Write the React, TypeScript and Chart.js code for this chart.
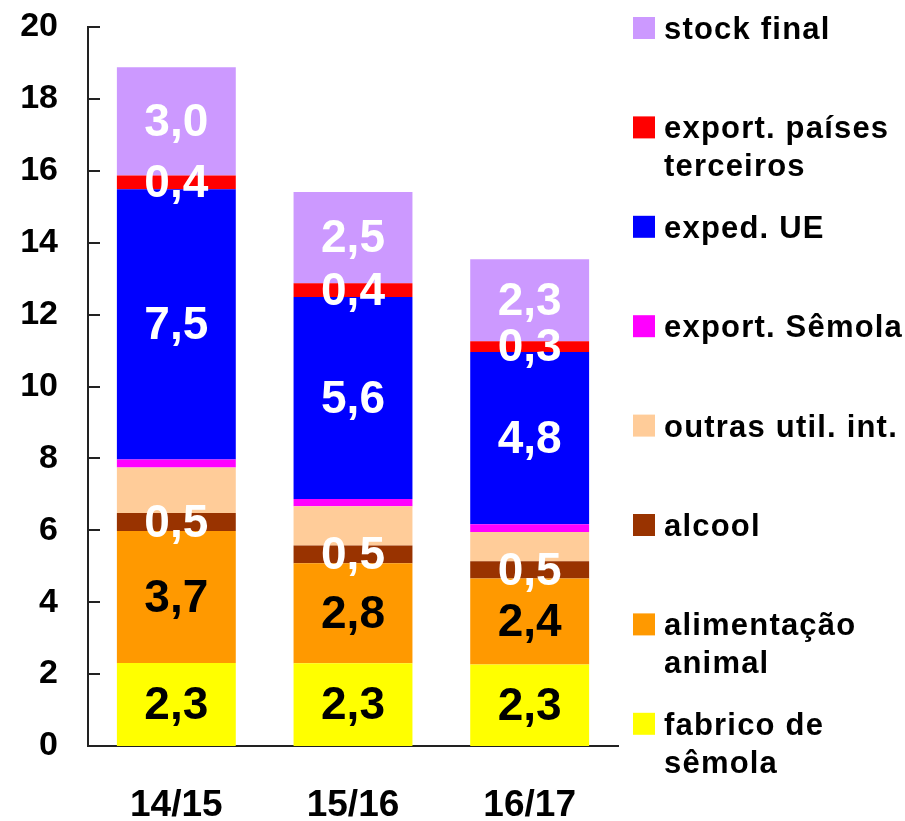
import React, { useEffect, useRef } from "react";
import { Chart, registerables } from "chart.js";

Chart.register(...registerables);

const categories = ["14/15", "15/16", "16/17"];

const fabricoSemola = [2.31, 2.3, 2.27];
const alimentacaoAnimal = [3.67, 2.78, 2.39];
const alcool = [0.5, 0.5, 0.48];
const outrasUtilInt = [1.27, 1.09, 0.81];
const exportSemola = [0.22, 0.2, 0.22];
const expedUE = [7.52, 5.62, 4.79];
const exportPaises = [0.38, 0.38, 0.3];
const stockFinal = [3.01, 2.54, 2.28];

const yMin = 0;
const yMax = 20;
const yStep = 2;

const FONT = '"Liberation Sans", Arial, Helvetica, sans-serif';

type Series = {
  name: string;
  lines: string[];
  data: number[];
  color: string;
  showValue: boolean;
  valueColor: string;
};

const series: Series[] = [
  { name: "fabrico de sêmola", lines: ["fabrico de", "sêmola"], data: fabricoSemola, color: "#FFFF00", showValue: true, valueColor: "#000000" },
  { name: "alimentação animal", lines: ["alimentação", "animal"], data: alimentacaoAnimal, color: "#FF9900", showValue: true, valueColor: "#000000" },
  { name: "alcool", lines: ["alcool"], data: alcool, color: "#993300", showValue: true, valueColor: "#FFFFFF" },
  { name: "outras util. int.", lines: ["outras util. int."], data: outrasUtilInt, color: "#FFCC99", showValue: false, valueColor: "#FFFFFF" },
  { name: "export. Sêmola", lines: ["export. Sêmola"], data: exportSemola, color: "#FF00FF", showValue: false, valueColor: "#FFFFFF" },
  { name: "exped. UE", lines: ["exped. UE"], data: expedUE, color: "#0000FF", showValue: true, valueColor: "#FFFFFF" },
  { name: "export. países terceiros", lines: ["export. países", "terceiros"], data: exportPaises, color: "#FF0000", showValue: true, valueColor: "#FFFFFF" },
  { name: "stock final", lines: ["stock final"], data: stockFinal, color: "#CC99FF", showValue: true, valueColor: "#FFFFFF" },
];

const axisColor = "#222222";

const innerTicksPlugin = {
  id: "innerTicks",
  afterDraw(chart: any) {
    const { ctx, chartArea, scales } = chart;
    const y = scales.y;
    ctx.save();
    ctx.strokeStyle = axisColor;
    ctx.lineWidth = 2;
    y.ticks.forEach((t: any) => {
      const py = Math.round(y.getPixelForValue(t.value));
      ctx.beginPath();
      ctx.moveTo(chartArea.left, py);
      ctx.lineTo(chartArea.left + 12, py);
      ctx.stroke();
    });
    ctx.restore();
  },
};

const barValuesPlugin = {
  id: "barValues",
  afterDatasetsDraw(chart: any) {
    const { ctx } = chart;
    ctx.save();
    ctx.font = `bold 46px ${FONT}`;
    ctx.textAlign = "center";
    ctx.textBaseline = "middle";
    series.forEach((s, di) => {
      if (!s.showValue) return;
      const meta = chart.getDatasetMeta(di);
      meta.data.forEach((bar: any, i: number) => {
        const cy = (bar.y + bar.base) / 2;
        ctx.fillStyle = s.valueColor;
        ctx.fillText(s.data[i].toFixed(1).replace(".", ","), bar.x, cy + 2);
      });
    });
    ctx.restore();
  },
};

const sideLegendPlugin = {
  id: "sideLegend",
  afterDraw(chart: any) {
    const { ctx } = chart;
    const items = [...series].reverse();
    ctx.save();
    ctx.font = `bold 31px ${FONT}`;
    (ctx as any).letterSpacing = "1.2px";
    ctx.textAlign = "left";
    ctx.textBaseline = "alphabetic";
    items.forEach((s, i) => {
      const top = 17 + i * 99.4;
      ctx.fillStyle = s.color;
      ctx.fillRect(633, top, 22, 22);
      ctx.fillStyle = "#000000";
      s.lines.forEach((line, li) => {
        ctx.fillText(line, 664, top + 22 + li * 38);
      });
    });
    ctx.restore();
  },
};

export default function App() {
  const canvasRef = useRef<HTMLCanvasElement | null>(null);

  useEffect(() => {
    if (!canvasRef.current) return;
    const chart = new Chart(canvasRef.current, {
      type: "bar",
      data: {
        labels: categories,
        datasets: series.map((s) => ({
          label: s.name,
          data: s.data,
          backgroundColor: s.color,
          borderWidth: 0,
          barPercentage: 0.673,
          categoryPercentage: 1,
        })),
      },
      options: {
        animation: false,
        responsive: false,
        maintainAspectRatio: false,
        layout: { padding: { top: 27, right: 287, left: 0, bottom: 0 } },
        plugins: {
          legend: { display: false },
          tooltip: { enabled: false },
        },
        scales: {
          x: {
            stacked: true,
            grid: { display: false, drawTicks: false },
            border: { display: true, color: axisColor, width: 2 },
            ticks: {
              color: "#000000",
              font: { family: FONT, size: 37, weight: "bold" },
              padding: 38,
            },
            afterFit(scale: any) {
              scale.height = 75;
              scale.paddingLeft = 0;
              scale.paddingRight = 0;
            },
          },
          y: {
            stacked: true,
            min: yMin,
            max: yMax,
            grid: { display: false, drawTicks: false },
            border: { display: true, color: axisColor, width: 2 },
            ticks: {
              stepSize: yStep,
              color: "#000000",
              font: { family: FONT, size: 34, weight: "bold" },
              padding: 30,
            },
            afterFit(scale: any) {
              scale.width = 88;
              scale.paddingTop = 0;
              scale.paddingBottom = 0;
            },
          },
        },
      },
      plugins: [innerTicksPlugin, barValuesPlugin, sideLegendPlugin],
    });
    return () => chart.destroy();
  }, []);

  return (
    <div style={{ position: "absolute", left: 0, top: 0, width: 905, height: 821, background: "#ffffff" }}>
      <canvas ref={canvasRef} width={905} height={821} style={{ width: 905, height: 821, display: "block" }} />
    </div>
  );
}
